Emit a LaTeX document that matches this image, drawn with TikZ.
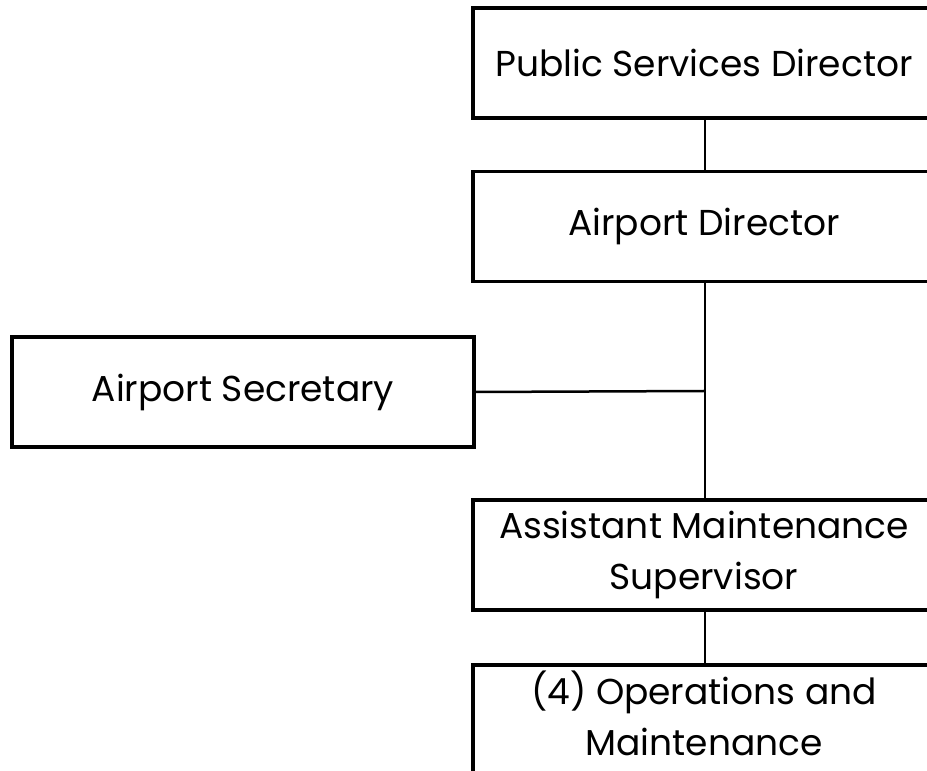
\documentclass[tikz,border=0pt]{standalone}
\usepackage{fontspec}
\setmainfont{Poppins}
\begin{document}
\begin{tikzpicture}[x=1pt,y=1pt,
  orgbox/.style={draw=black,line width=3.5pt,minimum width=462pt,minimum height=110pt,
    align=center,inner sep=0pt,font=\fontsize{36}{51}\selectfont},
  link/.style={draw=black,line width=2.5pt}]
\useasboundingbox (0,0) rectangle (927,771);
\node[orgbox] (psd) at (704,708) {Public Services Director};
\node[orgbox] (ad) at (704,544.5) {Airport Director};
\node[orgbox] (sec) at (243,379) {Airport Secretary};
\node[orgbox] (ams) at (704,216) {Assistant Maintenance\\Supervisor};
\node[orgbox] (ops) at (704,51) {\raisebox{7pt}{\begin{tabular}{@{}c@{}}(4) Operations and\\Maintenance\end{tabular}}};
\coordinate (br) at (705,380);
\draw[link] (psd.south -| 705,0) -- (ad.north -| 705,0);
\draw[link] (ad.south -| 705,0) -- (ams.north -| 705,0);
\draw[link] (sec.east) -- (br);
\draw[link] (ams.south -| 705,0) -- (ops.north -| 705,0);
\end{tikzpicture}
\end{document}
